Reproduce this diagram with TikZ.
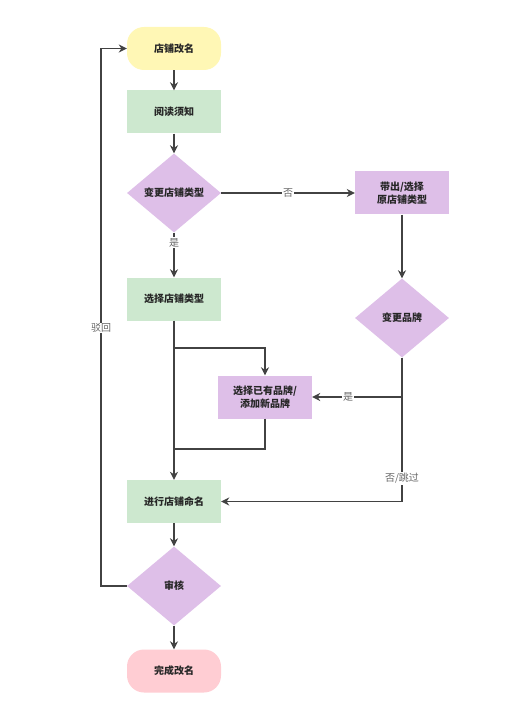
\documentclass[tikz,border=0pt]{standalone}
\usepackage{fontspec}
\setmainfont{Noto Sans CJK SC}
\usepackage{tikz}
\usetikzlibrary{arrows.meta,positioning,shapes.geometric}
\usepackage{xcolor}
\definecolor{termstart}{HTML}{FFF7B5}
\definecolor{termend}{HTML}{FFCDD3}
\definecolor{stepgreen}{HTML}{CDE8CF}
\definecolor{steppurple}{HTML}{DEBFE8}
\definecolor{linegray}{HTML}{424242}
\definecolor{labelgray}{HTML}{666666}
\tikzset{
  termbox/.style={rectangle,rounded corners=17pt,draw=none,
    minimum width=94pt,minimum height=43pt,inner sep=2pt,
    font=\fontsize{10}{12.5}\selectfont\bfseries,text=black!85},
  greenbox/.style={rectangle,draw=none,fill=stepgreen,
    minimum width=94pt,minimum height=43pt,inner sep=2pt,
    font=\fontsize{10}{12.5}\selectfont\bfseries,text=black!85},
  purplebox/.style={greenbox,fill=steppurple,align=center},
  decision/.style={diamond,draw=none,fill=steppurple,
    minimum width=94pt,minimum height=79pt,inner sep=0pt,
    font=\fontsize{10}{12.5}\selectfont\bfseries,text=black!85},
  flowline/.style={line width=1.4pt,color=linegray},
  flowedge/.style={flowline,-{Stealth[length=8pt,width=8pt]}},
  lbl/.style={fill=white,inner sep=1pt,text=labelgray,
    font=\fontsize{10}{12}\selectfont},
}

\begin{document}
\begin{tikzpicture}[x=1pt,y=-1pt]
  \useasboundingbox (0,0) rectangle (509,711);
  % main column
  \node[termbox,fill=termstart] (start) at (174,48.5) {店铺改名};
  \node[greenbox] (read) at (174,112) {阅读须知};
  \node[decision] (typeq) at (174,193) {变更店铺类型};
  \node[greenbox] (choosetype) at (174,299) {选择店铺类型};
  \node[greenbox] (naming) at (174,501.5) {进行店铺命名};
  \node[decision] (review) at (174,586) {审核};
  \node[termbox,fill=termend] (done) at (174,671) {完成改名};
  % right branch
  \node[purplebox] (carry) at (402,193) {带出/选择\\原店铺类型};
  \node[decision] (brandq) at (402,318) {变更品牌};
  \node[purplebox] (brand) at (265,397) {选择已有品牌/\\添加新品牌};
  \coordinate (split) at (174,348);
  \coordinate (merge) at (174,449);
  \coordinate (back) at (101,586);

  \draw[flowedge] (start) -- (read);
  \draw[flowedge] (read) -- (typeq);
  \draw[flowedge] (typeq) -- node[lbl]{否} (carry);
  \draw[flowedge] (typeq) -- node[lbl,pos=0.22]{是} (choosetype);
  \draw[flowedge] (carry) -- (brandq);
  \draw[flowedge] (choosetype) -- (naming);
  \draw[flowedge] (split) -| (brand);
  \draw[flowline] (brand) |- (merge);
  \draw[flowedge] (brandq.south) |- node[lbl,pos=0.8]{是} (brand.east);
  \draw[flowedge] (brandq.south) |- node[lbl,pos=0.42]{否/跳过} (naming.east);
  \draw[flowedge] (naming) -- (review);
  \draw[flowedge] (review) -- (done);
  \draw[flowedge] (review.west) -- (back) |- node[lbl,pos=0.24]{驳回} (start.west);
\end{tikzpicture}
\end{document}
